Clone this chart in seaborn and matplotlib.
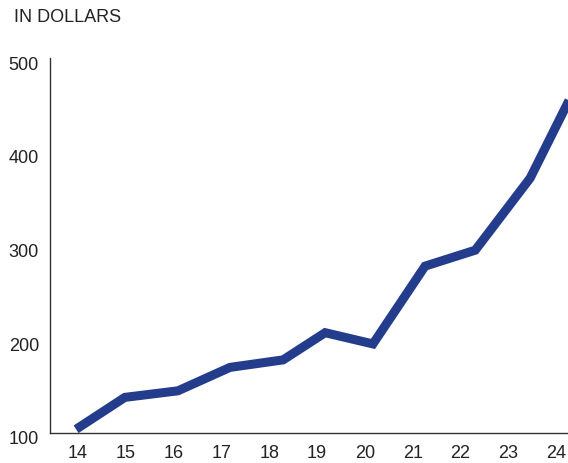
import pandas as pd
import matplotlib.pyplot as plt
import matplotlib.transforms as mtransforms
import seaborn as sns

# values (x in year units, y in dollars)
years = [13.96, 14.98, 16.09, 17.18, 18.29, 19.17, 20.17, 21.26, 22.31, 23.46, 24.42]
dollars = [104, 138, 145, 170, 178, 207, 195, 278, 295, 372, 470]
tick_years = [14, 15, 16, 17, 18, 19, 20, 21, 22, 23, 24]
tick_dollars = [100, 200, 300, 400, 500]

df = pd.DataFrame({'year': years, 'dollars': dollars})

sns.set_style("white")
plt.rcParams['font.family'] = ['Liberation Sans', 'DejaVu Sans']

fig = plt.figure(figsize=(5.68, 4.63), dpi=100)
ax = fig.add_axes([50 / 568, 30 / 463, 518 / 568, 375 / 463])

sns.lineplot(data=df, x='year', y='dollars', ax=ax, color='#243c8c',
             linewidth=6.5, sort=False)
for ln in ax.get_lines():
    ln.set_solid_capstyle('butt')
    ln.set_solid_joinstyle('miter')
    ln.set_clip_on(True)

ax.set_xlim(13.414, 24.25)
ax.set_ylim(100, 500)
ax.set_xticks(tick_years)
ax.set_xticklabels([str(t) for t in tick_years])
ax.set_yticks(tick_dollars)
ax.set_yticklabels([str(t) for t in tick_dollars])
ax.set_xlabel('')
ax.set_ylabel('')

ax.tick_params(axis='both', length=0, labelsize=13, labelcolor='#222222')
ax.tick_params(axis='x', pad=9)
ax.tick_params(axis='y', pad=8)
shift = mtransforms.ScaledTranslation(0, -5 / 100, fig.dpi_scale_trans)
for lab in ax.get_yticklabels():
    lab.set_transform(lab.get_transform() + shift)

for side in ['top', 'right']:
    ax.spines[side].set_visible(False)
for side in ['left', 'bottom']:
    ax.spines[side].set_color('#333333')
    ax.spines[side].set_linewidth(1.0)

fig.text(14 / 568, 1 - 18 / 463, 'IN DOLLARS', fontsize=13, color='#222222',
         ha='left', va='center')

fig.savefig('out.png', dpi=100)
